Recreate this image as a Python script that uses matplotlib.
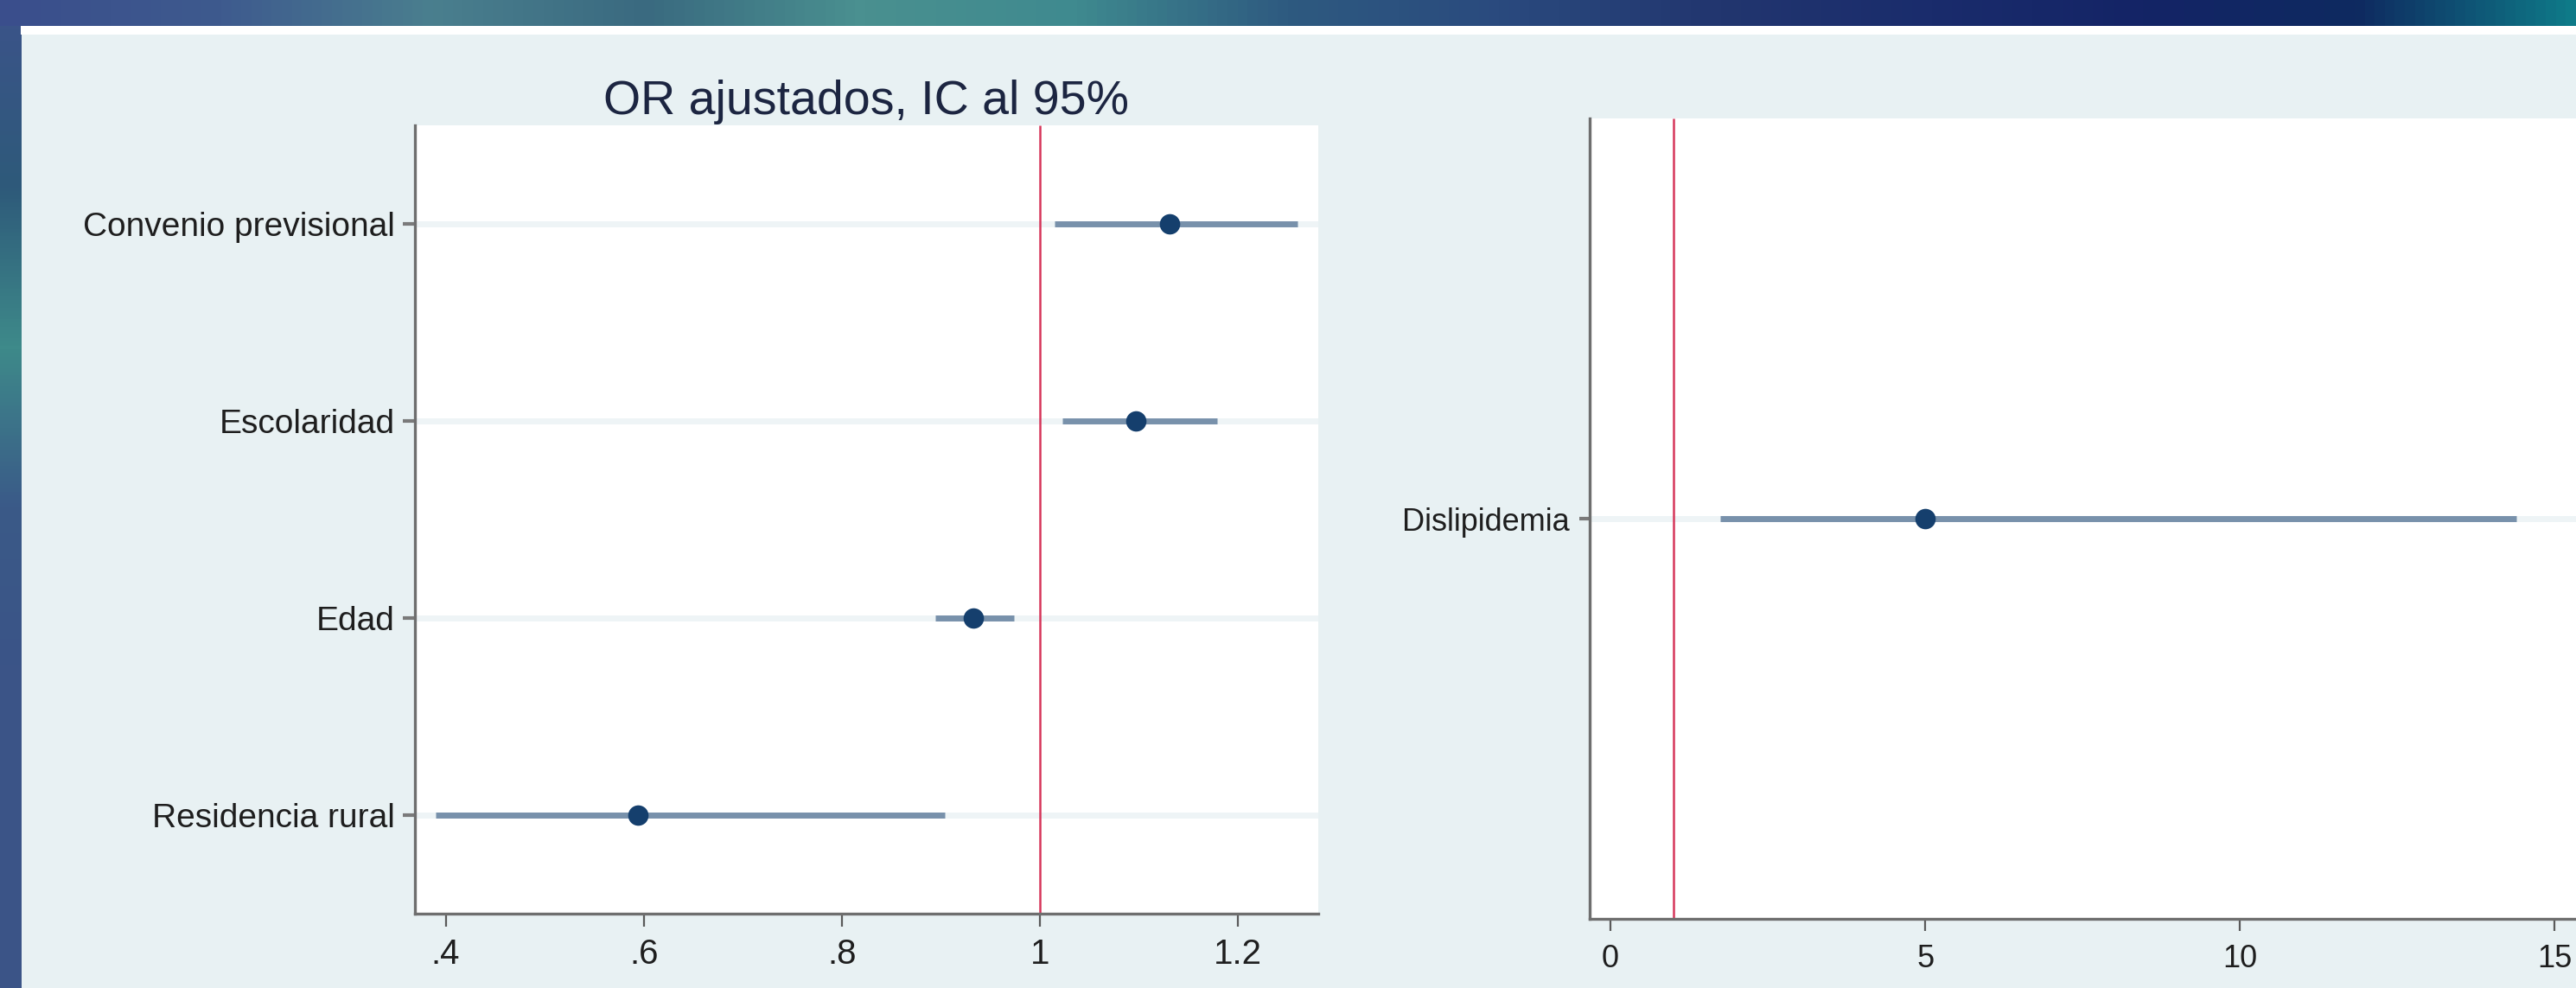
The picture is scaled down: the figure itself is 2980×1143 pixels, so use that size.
import numpy as np
import matplotlib
matplotlib.use("Agg")
import matplotlib.pyplot as plt
from matplotlib.colors import LinearSegmentedColormap
from matplotlib.patches import Rectangle

# ---------------- data ----------------
title = "OR ajustados, IC al 95%"

left_labels = ["Convenio previsional", "Escolaridad", "Edad", "Residencia rural"]
left_or = [1.131, 1.097, 0.933, 0.594]
left_lo = [1.015, 1.023, 0.894, 0.390]
left_hi = [1.260, 1.179, 0.974, 0.904]
left_ticks = [0.4, 0.6, 0.8, 1.0, 1.2]
left_ticklabels = [".4", ".6", ".8", "1", "1.2"]

right_labels = ["Dislipidemia"]
right_or = [5.0]
right_lo = [1.74]
right_hi = [14.39]
right_ticks = [0, 5, 10, 15]
right_ticklabels = ["0", "5", "10", "15"]

ref_value = 1.0

# ---------------- style ----------------
W, H = 2980, 1143
DPI = 100
plt.rcParams["font.family"] = ["Liberation Sans", "DejaVu Sans"]
plt.rcParams["lines.solid_capstyle"] = "butt"

BG = "#E8F1F3"
CI_COL = "#7891AB"
PT_COL = "#153F6D"
RED = "#D6365A"
SPINE = "#6E6E6E"
GRID = "#EEF4F6"
TXT = "#1E1E1E"

fig = plt.figure(figsize=(W / DPI, H / DPI), dpi=DPI, facecolor=BG)


def fx(px):
    return px / W


def fy(py):
    return 1 - py / H


# decorative top band (gradient)
band_cols = ["#3A4E8C", "#3E5A8E", "#4A7F8E", "#3A6A80", "#4A9090", "#3F8A8F",
             "#2E5A80", "#2A4A7E", "#22366F", "#1A2C6C", "#142466", "#0E2A60", "#0E7A88"]
band_cmap = LinearSegmentedColormap.from_list("band", band_cols)
axb = fig.add_axes([0, fy(30), 1, 30 / H])
axb.imshow(np.linspace(0, 1, 512)[None, :], aspect="auto", cmap=band_cmap,
           extent=[0, 1, 0, 1])
axb.axis("off")

# left decorative strip
strip_cols = ["#3A5488", "#2E5A7A", "#3E8A8A", "#3A5A88", "#3B5487", "#3B5487", "#3B5487"]
strip_cmap = LinearSegmentedColormap.from_list("strip", strip_cols)
axs = fig.add_axes([0, 0, fx(24), fy(30)])
axs.imshow(np.linspace(0, 1, 256)[:, None], aspect="auto", cmap=strip_cmap,
           extent=[0, 1, 0, 1])
axs.axis("off")

# white strip under the band
fig.patches.append(Rectangle((fx(24), fy(40)), 1 - fx(24), 10 / H, transform=fig.transFigure,
                             facecolor="white", edgecolor="none", zorder=0))


def forest(ax, labels, est, lo, hi, xlim, ticks, ticklabels, lab_size, tick_size,
           ytick_len, ytick_pad, xtick_len, xtick_pad):
    n = len(labels)
    ys = np.arange(n, 0, -1)
    ax.set_facecolor("white")
    ax.set_xlim(*xlim)
    ax.set_ylim(0.5, n + 0.5)
    for y in ys:
        ax.axhline(y, color=GRID, lw=5, zorder=1)
    ax.axvline(ref_value, color=RED, lw=1.8, zorder=2)
    ax.hlines(ys, lo, hi, color=CI_COL, lw=5, zorder=3)
    ax.plot(est, ys, "o", color=PT_COL, ms=17, mew=0, zorder=4)
    ax.set_yticks(ys)
    ax.set_yticklabels(labels, fontsize=lab_size, color=TXT)
    ax.set_xticks(ticks)
    ax.set_xticklabels(ticklabels, fontsize=tick_size, color=TXT)
    for s in ("top", "right"):
        ax.spines[s].set_visible(False)
    for s in ("left", "bottom"):
        ax.spines[s].set_color(SPINE)
        ax.spines[s].set_linewidth(2.4)
    ax.tick_params(axis="y", length=ytick_len, width=3, color="#7A7A7A", pad=ytick_pad)
    ax.tick_params(axis="x", length=xtick_len, width=1.6, color="#5A5A5A", pad=xtick_pad)


# left panel: x 480..1525, y 145..1057
axL = fig.add_axes([fx(480), fy(1057), (1525 - 480) / W, (1057 - 145) / H])
forest(axL, left_labels, left_or, left_lo, left_hi, (0.369, 1.281),
       left_ticks, left_ticklabels, 28, 29, 10, 7, 11, 9)
axL.set_title(title, fontsize=40, color="#1C2541", pad=9)

# right panel: x 1839..2980, y 137..1063
axR = fig.add_axes([fx(1839), fy(1063), (W - 1839) / W, (1063 - 137) / H])
forest(axR, right_labels, right_or, right_lo, right_hi, (-0.33, 15.34),
       right_ticks, right_ticklabels, 26, 26, 9, 8, 10, 11)

fig.savefig("out.png", dpi=DPI, facecolor=fig.get_facecolor())
